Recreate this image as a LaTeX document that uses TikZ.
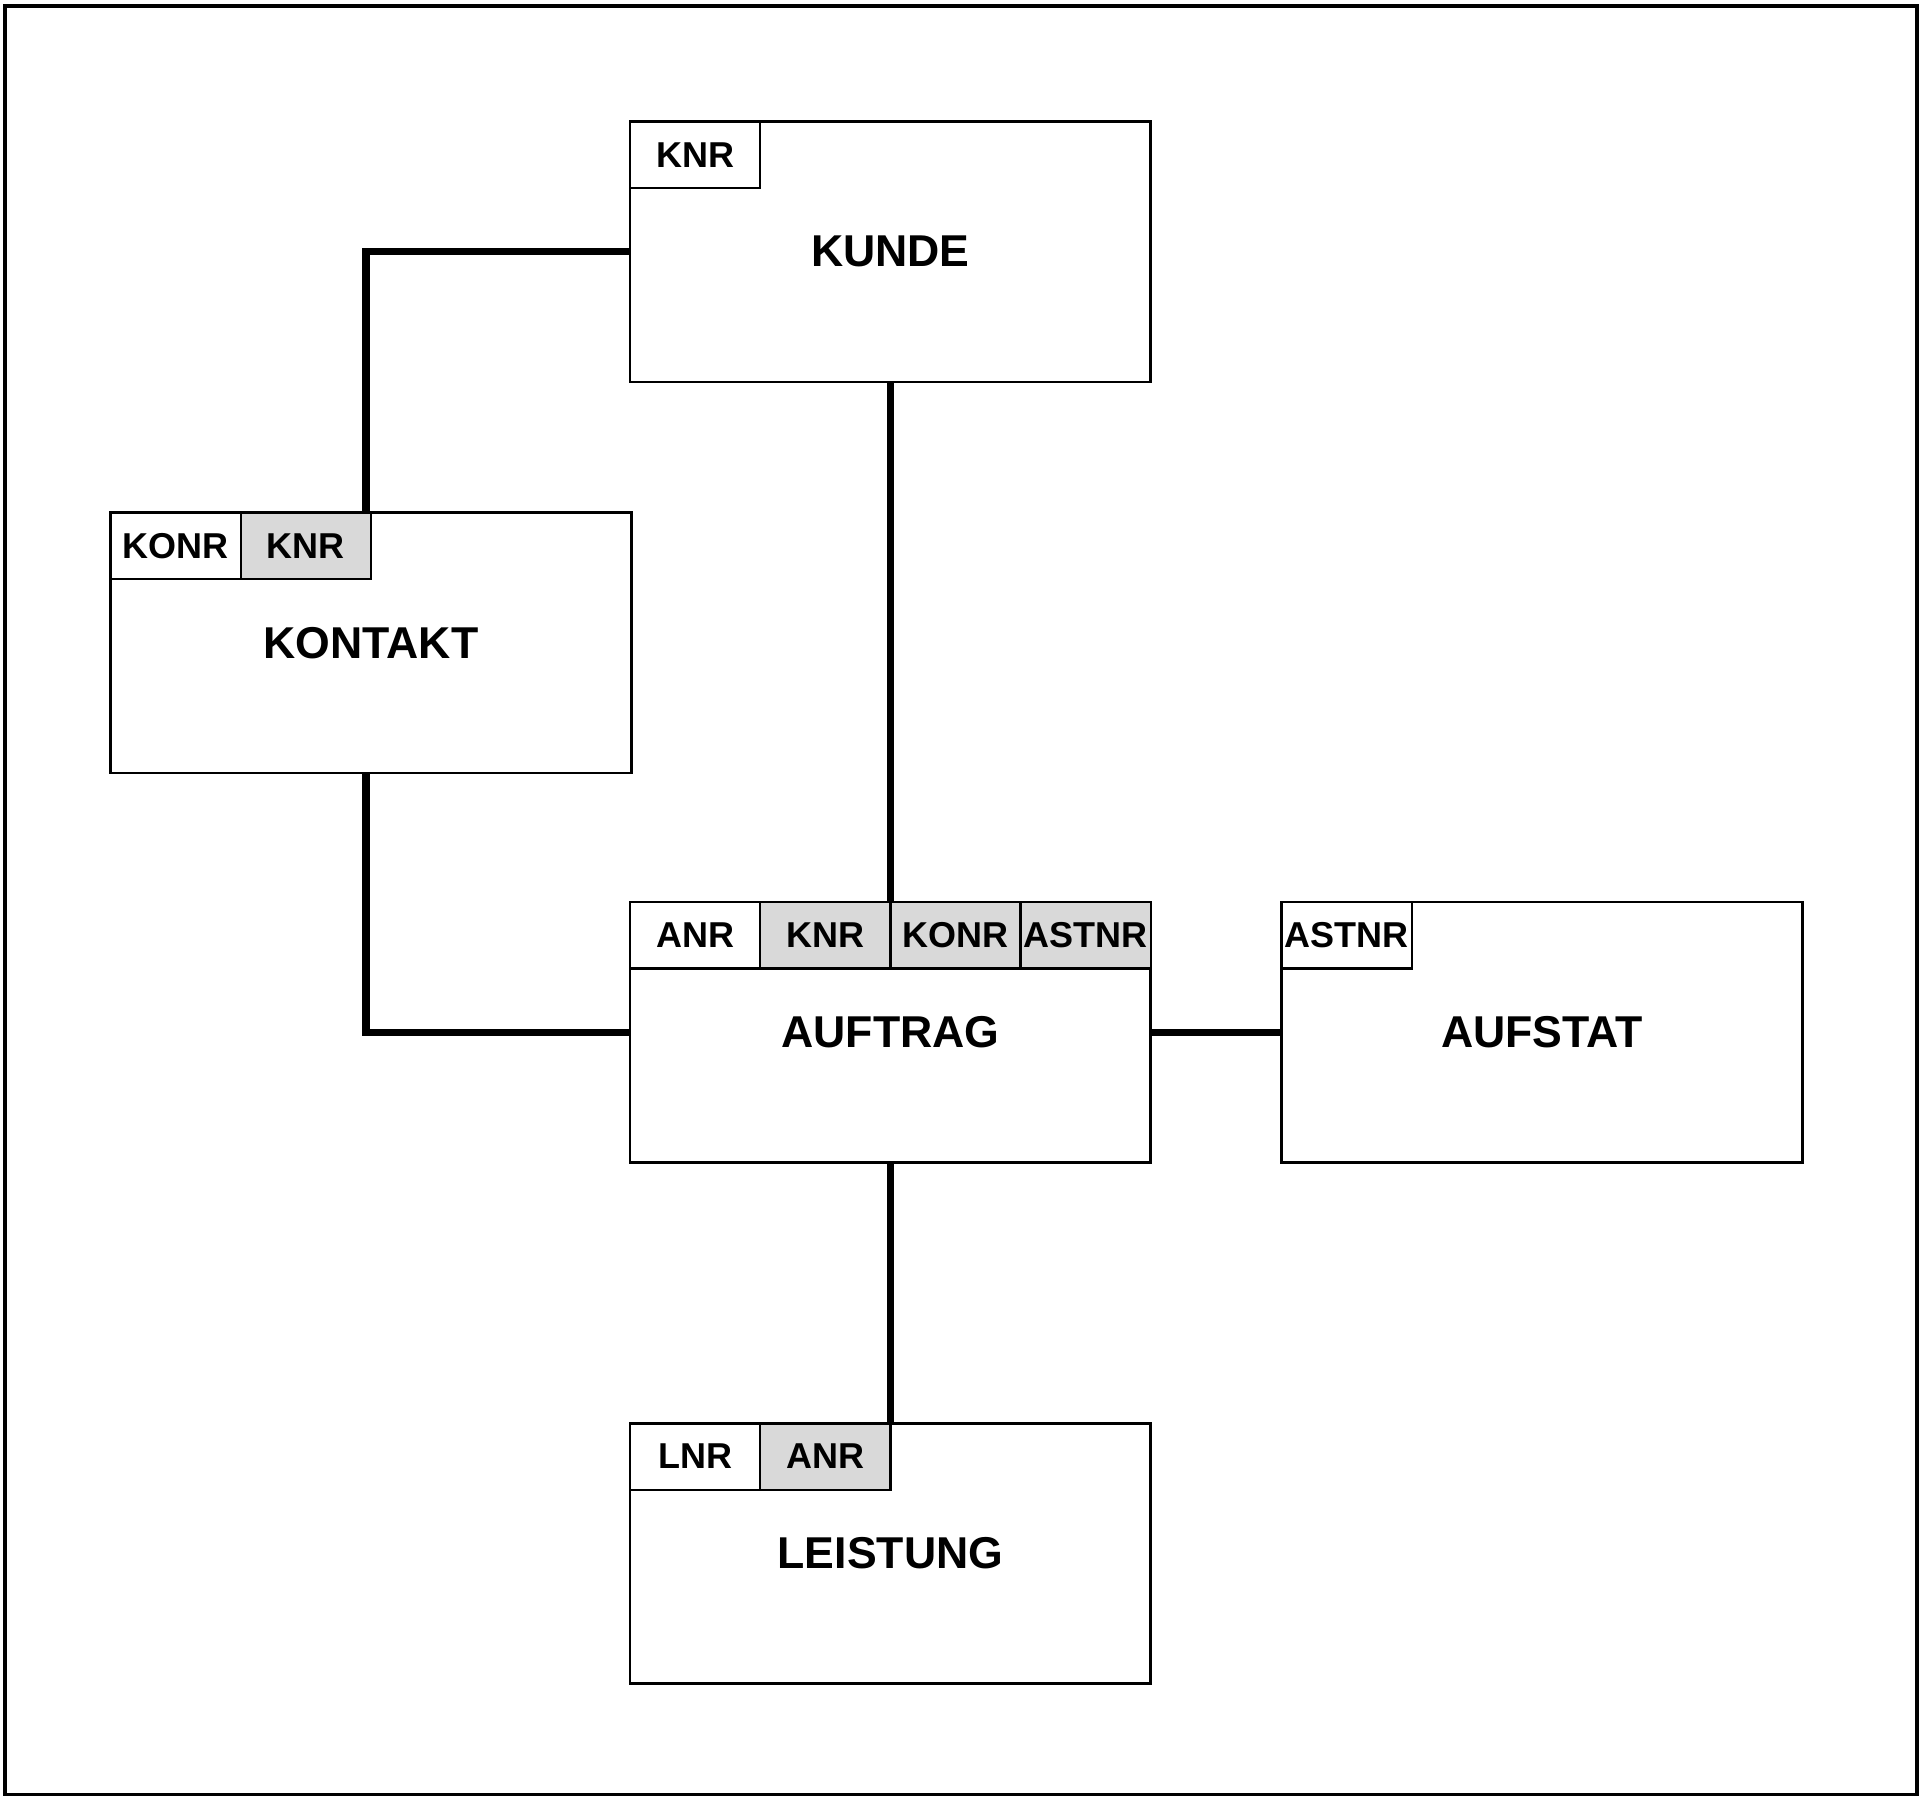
\documentclass[tikz,border=0pt]{standalone}
\usepackage{fontspec}
\setmainfont{Liberation Sans}
\usetikzlibrary{positioning}

\tikzset{
  entity/.style={draw,line width=1.8pt,minimum width=127.2mm,minimum height=63.6mm,
    inner sep=0pt,outer sep=0pt,font=\bfseries\fontsize{31}{31}\selectfont},
  keycell/.style={draw,line width=1.6pt,minimum width=31.8mm,minimum height=16.2mm,
    inner sep=0pt,outer sep=0pt,font=\bfseries\fontsize{25}{25}\selectfont},
  fkcell/.style={keycell,fill=black!15},
  link/.style={line width=5pt}
}

\begin{document}
\begin{tikzpicture}[x=0.3mm,y=-0.3mm,node distance=0pt]

\useasboundingbox (0,0) rectangle (1565,1463.2);
\draw[line width=2.5pt] (4,5) rectangle (1561,1461);

% entities
\node[entity] (kunde) at (725,205) {KUNDE};
\node[entity] (kontakt) at (302,523.5) {KONTAKT};
\node[entity] (auftrag) at (725,840.5) {AUFTRAG};
\node[entity] (aufstat) at (1255.5,840.5) {AUFSTAT};
\node[entity] (leistung) at (725,1265) {LEISTUNG};

% key cells
\node[keycell,anchor=north west] (kunde-knr) at (kunde.north west) {KNR};

\node[keycell,anchor=north west] (kontakt-konr) at (kontakt.north west) {KONR};
\node[fkcell,right=of kontakt-konr] (kontakt-knr) {KNR};

\node[keycell,anchor=north west] (auftrag-anr) at (auftrag.north west) {ANR};
\node[fkcell,right=of auftrag-anr] (auftrag-knr) {KNR};
\node[fkcell,right=of auftrag-knr] (auftrag-konr) {KONR};
\node[fkcell,right=of auftrag-konr] (auftrag-astnr) {ASTNR};

\node[keycell,anchor=north west] (aufstat-astnr) at (aufstat.north west) {ASTNR};

\node[keycell,anchor=north west] (leistung-lnr) at (leistung.north west) {LNR};
\node[fkcell,right=of leistung-lnr] (leistung-anr) {ANR};

% relationships
\draw[link] (kunde.west) -| ([xshift=-1.2mm]kontakt.north);
\draw[link] (kunde.south) -- (auftrag.north);
\draw[link] ([xshift=-1.2mm]kontakt.south) |- (auftrag.west);
\draw[link] (auftrag.east) -- (aufstat.west);
\draw[link] (auftrag.south) -- (leistung.north);
\end{tikzpicture}
\end{document}
